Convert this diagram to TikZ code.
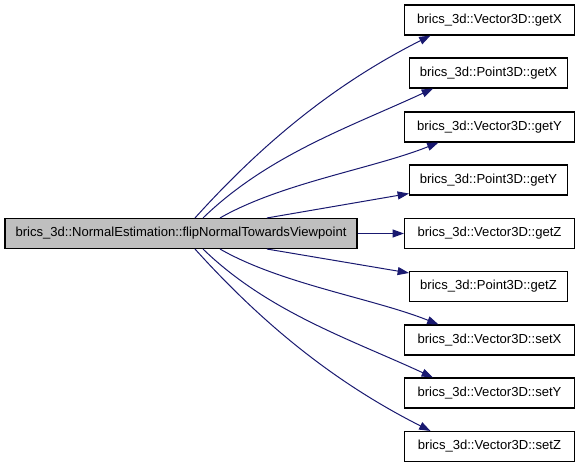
\documentclass[tikz,border=0pt]{standalone}
\usepackage{fontspec}
\setmainfont{Liberation Sans}
\usetikzlibrary{arrows.meta}
\definecolor{calledge}{RGB}{25,25,112}
\definecolor{mainfill}{RGB}{191,191,191}

\begin{document}
\begin{tikzpicture}[x=0.75pt,y=-0.75pt,
  every node/.style={font=\fontsize{9.8}{12}\selectfont,draw=black,line width=0.8pt,
    minimum height=22.5pt,inner sep=0pt,fill=white},
  vecbox/.style={minimum width=127.5pt},
  ptbox/.style={minimum width=118.5pt},
  calls/.style={calledge,line width=0.75pt,-{Triangle[length=8.5pt,width=6pt]}}]
  \useasboundingbox (0,0) rectangle (579,467);
  % Caller
  \node[fill=mainfill,minimum width=264pt] (main) at (181,233.5) {brics\_3d::NormalEstimation::flipNormalTowardsViewpoint};
  % Callees
  \node[vecbox] (vgetx) at (489.5,20) {brics\_3d::Vector3D::getX};
  \node[ptbox] (pgetx) at (488.5,73) {brics\_3d::Point3D::getX};
  \node[vecbox] (vgety) at (489.5,127) {brics\_3d::Vector3D::getY};
  \node[ptbox] (pgety) at (488.5,180) {brics\_3d::Point3D::getY};
  \node[vecbox] (vgetz) at (489.5,233.5) {brics\_3d::Vector3D::getZ};
  \node[ptbox] (pgetz) at (488.5,286.5) {brics\_3d::Point3D::getZ};
  \node[vecbox] (vsetx) at (489.5,340) {brics\_3d::Vector3D::setX};
  \node[vecbox] (vsety) at (489.5,393) {brics\_3d::Vector3D::setY};
  \node[vecbox] (vsetz) at (489.5,446.5) {brics\_3d::Vector3D::setZ};
  % Calls above the caller
  \draw[calls] ([xshift=10.5pt]main.north) .. controls +(74,-82) and +(-89,45) .. ([xshift=-44.25pt]vgetx.south);
  \draw[calls] ([xshift=16.5pt]main.north) .. controls +(65,-63) and +(-82,38) .. ([xshift=-41.6pt]pgetx.south);
  \draw[calls] ([xshift=29.25pt]main.north) .. controls +(61,-35) and +(-65,26) .. ([xshift=-38.25pt]vgety.south);
  \draw[calls] ([xshift=64.5pt]main.north) -- ([yshift=1.5pt]pgety.south west);
  \draw[calls] (main) -- (vgetz);
  % Calls below the caller
  \draw[calls] ([xshift=64.5pt]main.south) -- ([yshift=-1.5pt]pgetz.north west);
  \draw[calls] ([xshift=29.25pt]main.south) .. controls +(61,35) and +(-65,-26) .. ([xshift=-38.25pt]vsetx.north);
  \draw[calls] ([xshift=16.5pt]main.south) .. controls +(65,63) and +(-82,-38) .. ([xshift=-42.4pt]vsety.north);
  \draw[calls] ([xshift=10.5pt]main.south) .. controls +(74,82) and +(-89,-45) .. ([xshift=-44.25pt]vsetz.north);
\end{tikzpicture}
\end{document}
